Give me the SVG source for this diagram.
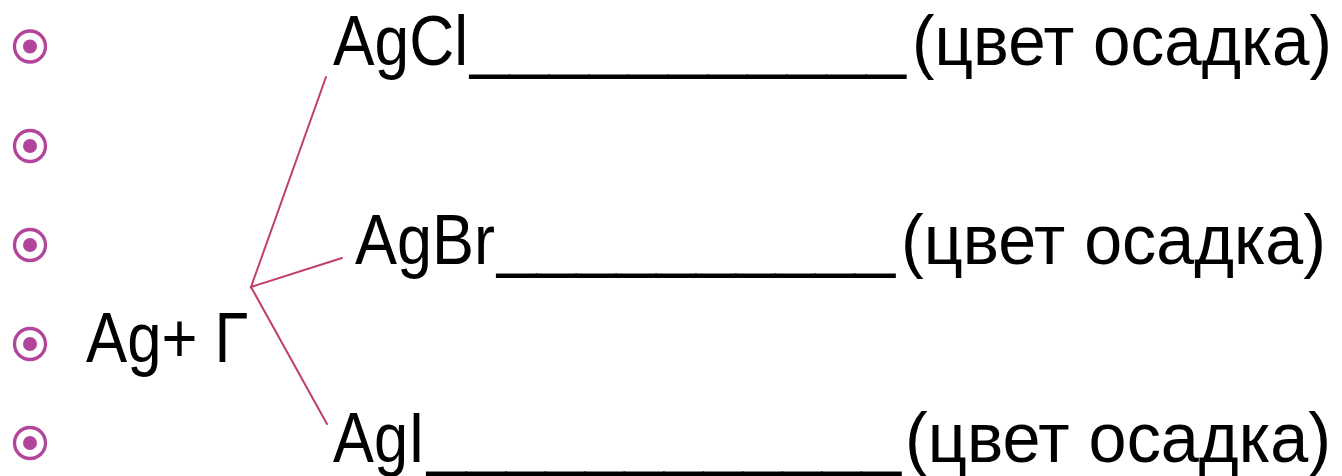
<svg xmlns="http://www.w3.org/2000/svg" width="1342" height="476" viewBox="0 0 1342 476">
<style>
.t{font-family:"Liberation Sans",Arial,sans-serif;font-size:70px;fill:#000}
.ring{fill:none;stroke:#B3449B;stroke-width:3.3}
.dot{fill:#B3449B}
.conn{stroke:#BE3F6E;stroke-width:2;fill:none;stroke-linecap:round}
</style>
<rect width="1342" height="476" fill="#fff"/>
<g id="bullets">
<circle class="ring" cx="30" cy="46.5" r="15.5"/><circle class="dot" cx="30" cy="46.5" r="7"/>
<circle class="ring" cx="30" cy="146" r="15.5"/><circle class="dot" cx="30" cy="146" r="7"/>
<circle class="ring" cx="30" cy="245" r="15.5"/><circle class="dot" cx="30" cy="245" r="7"/>
<circle class="ring" cx="30" cy="344" r="15.5"/><circle class="dot" cx="30" cy="344" r="7"/>
<circle class="ring" cx="30" cy="443" r="15.5"/><circle class="dot" cx="30" cy="443" r="7"/>
</g>
<g id="connectors">
<polyline class="conn" points="326,77 251,287 342,258"/>
<line class="conn" x1="251" y1="287" x2="327" y2="424"/>
</g>
<g id="source">
<text class="t" x="86" y="362" textLength="162" lengthAdjust="spacingAndGlyphs">Ag+ Г</text>
</g>
<g id="agcl">
<text class="t" y="65"><tspan x="333" textLength="135" lengthAdjust="spacingAndGlyphs">AgCl</tspan><tspan x="470" textLength="436" lengthAdjust="spacingAndGlyphs">___________</tspan><tspan x="912" textLength="420" lengthAdjust="spacingAndGlyphs">(цвет осадка)</tspan></text>
</g>
<g id="agbr">
<text class="t" y="264"><tspan x="355" textLength="140" lengthAdjust="spacingAndGlyphs">AgBr</tspan><tspan x="497" textLength="398" lengthAdjust="spacingAndGlyphs">__________</tspan><tspan x="901" textLength="425" lengthAdjust="spacingAndGlyphs">(цвет осадка)</tspan></text>
</g>
<g id="agi">
<text class="t" y="462"><tspan x="333" textLength="92" lengthAdjust="spacingAndGlyphs">AgI</tspan><tspan x="427" textLength="474" lengthAdjust="spacingAndGlyphs">____________</tspan><tspan x="905" textLength="426" lengthAdjust="spacingAndGlyphs">(цвет осадка)</tspan></text>
</g>
</svg>
